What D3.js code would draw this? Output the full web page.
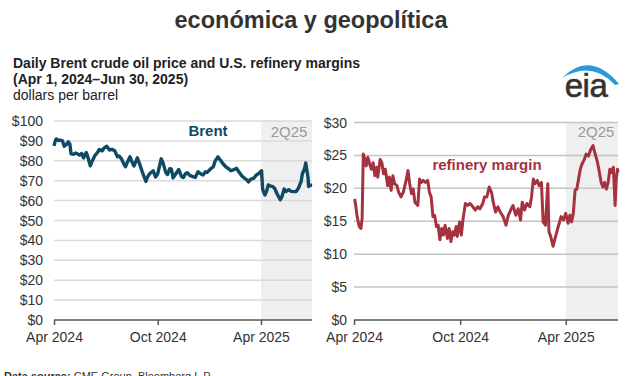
<!DOCTYPE html>
<html>
<head>
<meta charset="utf-8">
<script src="https://cdn.jsdelivr.net/npm/d3@7"></script>
<style>
  body { margin: 0; background: #fff; }
  svg { display: block; font-family: "Liberation Sans", Arial, Helvetica, sans-serif; }
</style>
</head>
<body>
<div id="chart"></div>
<script>
// Brent crude, dollars per barrel
var brentDates = ["2024-04-01","2024-04-03","2024-04-05","2024-04-09","2024-04-12","2024-04-16","2024-04-19","2024-04-23","2024-04-26","2024-04-29",
  "2024-05-01","2024-05-06","2024-05-09","2024-05-13","2024-05-16","2024-05-20","2024-05-23","2024-05-28","2024-05-31","2024-06-04",
  "2024-06-07","2024-06-12","2024-06-17","2024-06-20","2024-06-25","2024-06-28","2024-07-03","2024-07-08","2024-07-12","2024-07-17",
  "2024-07-22","2024-07-25","2024-07-29","2024-08-02","2024-08-05","2024-08-09","2024-08-13","2024-08-16","2024-08-20","2024-08-26",
  "2024-08-30","2024-09-04","2024-09-10","2024-09-13","2024-09-17","2024-09-23","2024-09-27","2024-10-01","2024-10-07","2024-10-10",
  "2024-10-15","2024-10-18","2024-10-22","2024-10-25","2024-10-28","2024-11-01","2024-11-07","2024-11-12","2024-11-15","2024-11-19",
  "2024-11-22","2024-11-26","2024-12-02","2024-12-06","2024-12-11","2024-12-16","2024-12-20","2024-12-24","2024-12-27","2025-01-02",
  "2025-01-07","2025-01-10","2025-01-15","2025-01-20","2025-01-24","2025-01-29","2025-02-03","2025-02-07","2025-02-11","2025-02-17",
  "2025-02-21","2025-02-26","2025-03-04","2025-03-07","2025-03-10","2025-03-14","2025-03-19","2025-03-24","2025-03-28","2025-04-02",
  "2025-04-04","2025-04-08","2025-04-11","2025-04-14","2025-04-17","2025-04-22","2025-04-25","2025-04-30","2025-05-05","2025-05-08",
  "2025-05-12","2025-05-15","2025-05-20","2025-05-23","2025-05-28","2025-06-02","2025-06-06","2025-06-11","2025-06-13","2025-06-17",
  "2025-06-19","2025-06-23","2025-06-24","2025-06-27","2025-06-30"];
var brentValues = [87.5,89.8,91.0,90.2,90.4,90.0,87.3,88.2,89.5,88.4,
  83.5,83.3,83.9,83.4,82.8,83.7,81.4,84.2,81.6,77.5,
  79.6,82.6,84.3,85.7,85.0,86.4,87.3,85.4,85.8,85.0,
  82.0,82.4,81.0,78.5,77.0,79.6,82.0,79.8,77.4,81.5,
  78.4,74.2,69.6,71.9,73.6,75.0,71.9,73.5,81.0,79.2,
  74.3,73.1,76.0,75.9,71.4,73.1,75.6,72.0,71.6,73.5,
  74.0,72.8,72.0,71.6,74.5,73.4,72.9,74.5,74.2,75.9,
  77.0,79.8,82.0,80.1,78.5,77.0,76.0,75.0,75.4,76.2,
  74.5,72.5,71.0,70.4,69.4,70.8,71.2,72.9,73.6,75.0,
  65.6,62.8,64.8,67.9,67.4,67.0,66.2,63.1,60.4,62.0,
  65.8,64.6,65.5,64.8,64.5,64.6,66.2,69.8,73.5,76.2,
  78.9,71.5,67.1,67.8,67.6];

// U.S. refinery margin, dollars per barrel
var marginDates = ["2024-04-02","2024-04-04","2024-04-06","2024-04-10","2024-04-13","2024-04-15","2024-04-17","2024-04-20","2024-04-22","2024-04-25",
  "2024-04-28","2024-05-01","2024-05-04","2024-05-07","2024-05-10","2024-05-12","2024-05-16","2024-05-19","2024-05-22","2024-05-25",
  "2024-05-29","2024-06-01","2024-06-04","2024-06-07","2024-06-10","2024-06-14","2024-06-17","2024-06-21","2024-06-25","2024-06-29",
  "2024-07-01","2024-07-03","2024-07-06","2024-07-09","2024-07-12","2024-07-15","2024-07-20","2024-07-23","2024-07-26","2024-07-29",
  "2024-08-02","2024-08-06","2024-08-09","2024-08-12","2024-08-15","2024-08-18","2024-08-21","2024-08-24","2024-08-27","2024-08-30",
  "2024-09-02","2024-09-05","2024-09-09","2024-09-12","2024-09-15","2024-09-18","2024-09-21","2024-09-24","2024-09-26","2024-09-30",
  "2024-10-03","2024-10-06","2024-10-10","2024-10-14","2024-10-18","2024-10-23","2024-10-27","2024-10-31","2024-11-04","2024-11-09",
  "2024-11-12","2024-11-16","2024-11-20","2024-11-24","2024-11-27","2024-12-01","2024-12-05","2024-12-09","2024-12-14","2024-12-19",
  "2024-12-23","2024-12-27","2024-12-31","2025-01-05","2025-01-09","2025-01-13","2025-01-16","2025-01-20","2025-01-24","2025-01-29",
  "2025-02-01","2025-02-04","2025-02-07","2025-02-11","2025-02-14","2025-02-18","2025-02-21","2025-02-25","2025-03-01","2025-03-03",
  "2025-03-06","2025-03-10","2025-03-15","2025-03-19","2025-03-24","2025-03-28","2025-04-01","2025-04-05","2025-04-08","2025-04-11",
  "2025-04-14","2025-04-17","2025-04-20","2025-04-23","2025-04-26","2025-04-29","2025-05-03","2025-05-06","2025-05-10","2025-05-14",
  "2025-05-18","2025-05-21","2025-05-25","2025-05-28","2025-06-01","2025-06-04","2025-06-07","2025-06-10","2025-06-13","2025-06-16",
  "2025-06-19","2025-06-22","2025-06-25","2025-06-27","2025-06-29","2025-06-30"];
var marginValues = [18.4,17.4,15.9,14.2,13.9,15.4,25.2,24.4,23.4,24.7,
  23.7,22.9,23.9,21.9,23.2,21.7,24.4,23.9,22.2,22.9,
  20.4,21.7,19.7,21.9,20.7,20.4,19.4,18.7,19.4,20.9,
  21.7,22.7,20.7,19.2,19.9,17.9,17.4,21.4,20.9,21.2,
  20.9,21.2,19.4,18.7,15.7,15.9,14.2,14.4,12.2,13.9,
  12.9,14.4,12.4,13.9,11.9,13.4,12.9,14.2,12.7,14.9,
  12.9,15.4,17.7,17.4,17.7,17.2,16.7,17.2,16.9,17.7,
  18.7,18.7,20.2,19.4,17.9,16.4,17.2,16.4,15.7,14.4,
  15.9,16.7,17.4,15.9,16.9,15.2,17.9,16.7,17.7,17.2,
  18.7,21.4,20.7,21.2,20.4,20.9,14.9,14.4,20.7,13.4,
  12.7,11.2,12.9,14.2,15.7,15.2,16.2,14.7,15.9,14.9,
  16.2,19.7,19.9,21.4,22.9,23.7,24.4,25.2,24.9,25.9,
  26.5,25.4,24.2,22.9,20.9,20.2,20.9,19.9,20.9,22.9,
  22.4,23.2,17.4,21.4,22.9,22.4];

var brentTicks = [0, 10, 20, 30, 40, 50, 60, 70, 80, 90, 100];
var marginTicks = [0, 5, 10, 15, 20, 25, 30];
var xTickDates = ["2024-04-01", "2024-10-01", "2025-04-01"];
var xTickLabels = ["Apr 2024", "Oct 2024", "Apr 2025"];
var quarterSpan = ["2025-04-01", "2025-06-30"];
var quarterLabel = "2Q25";

var parse = d3.timeParse("%Y-%m-%d");
var fmtLabel = {};
xTickDates.forEach(function(d, i) { fmtLabel[+parse(d)] = xTickLabels[i]; });

var width = 627, height = 376;

var svg = d3.select("#chart").append("svg")
    .attr("width", width)
    .attr("height", height);

// headings
svg.append("text")
    .attr("x", 311).attr("y", 28)
    .attr("text-anchor", "middle")
    .style("font-size", "23.5px").style("font-weight", "bold").style("fill", "#333")
    .text("económica y geopolítica");

var sub = [
  {t: "Daily Brent crude oil price and U.S. refinery margins", y: 68, b: true},
  {t: "(Apr 1, 2024\u2013Jun 30, 2025)", y: 84, b: true},
  {t: "dollars per barrel", y: 100, b: false}
];
svg.selectAll(".sub").data(sub).enter().append("text")
    .attr("class", "sub")
    .attr("x", 13).attr("y", function(d) { return d.y; })
    .style("font-size", "14px")
    .style("font-weight", function(d) { return d.b ? "bold" : "normal"; })
    .style("fill", "#222")
    .text(function(d) { return d.t; });

// eia logo
svg.append("path")
    .attr("d", "M562,78 Q590,50 619,84 L615,85 Q592,60 562,78 Z")
    .attr("fill", "#2c9ad8");
svg.append("text")
    .attr("x", 586).attr("y", 97)
    .attr("text-anchor", "middle")
    .style("font-size", "33px").style("fill", "#333").style("letter-spacing", "-0.5px")
    .style("stroke", "#333").style("stroke-width", 0.6)
    .text("eia");

function drawPanel(cfg) {
  var data = cfg.dates.map(function(d, i) { return {date: parse(d), value: cfg.values[i]}; });

  var x = d3.scaleTime()
      .domain([parse("2024-04-01"), parse("2025-06-30")])
      .range([cfg.left, cfg.right]);
  var y = d3.scaleLinear()
      .domain([0, d3.max(cfg.ticks)])
      .range([320, cfg.top]);

  var g = svg.append("g");

  // shaded quarter
  g.append("rect")
      .attr("x", x(parse(quarterSpan[0])))
      .attr("y", y(d3.max(cfg.ticks)))
      .attr("width", x(parse(quarterSpan[1])) - x(parse(quarterSpan[0])))
      .attr("height", y(0) - y(d3.max(cfg.ticks)))
      .attr("fill", "#efefef");

  // gridlines
  g.selectAll(".grid").data(cfg.ticks.slice(1)).enter().append("line")
      .attr("x1", cfg.left).attr("x2", cfg.right)
      .attr("y1", function(d) { return y(d); })
      .attr("y2", function(d) { return y(d); })
      .attr("stroke", cfg.grid).attr("stroke-width", 1.5);

  // y labels
  g.selectAll(".ylab").data(cfg.ticks).enter().append("text")
      .attr("x", cfg.labelX).attr("y", function(d) { return y(d) + 5; })
      .attr("text-anchor", "end")
      .style("font-size", "14px").style("fill", "#333")
      .text(function(d) { return "$" + d; });

  // x axis
  var xAxis = d3.axisBottom(x)
      .tickValues(xTickDates.map(parse))
      .tickSize(5)
      .tickPadding(7)
      .tickFormat(function(d) { return fmtLabel[+d]; });
  var ax = g.append("g")
      .attr("transform", "translate(0,320)")
      .call(xAxis);
  ax.select(".domain").attr("d", "M" + cfg.left + ",0H" + cfg.right)
      .attr("stroke", "#555").attr("stroke-width", 1.5);
  ax.selectAll(".tick line").attr("stroke", "#555").attr("stroke-width", 1.5);
  ax.selectAll(".tick text")
      .style("font-size", "14px").style("fill", "#333")
      .style("font-family", "\"Liberation Sans\", Arial, sans-serif");

  // quarter label
  g.append("text")
      .attr("x", cfg.qx).attr("y", 137)
      .attr("text-anchor", "middle")
      .style("font-size", "15px").style("fill", "#9a9a9a")
      .text(quarterLabel);

  // line
  var line = d3.line()
      .x(function(d) { return x(d.date); })
      .y(function(d) { return y(d.value); });

  g.append("path")
      .datum(data)
      .attr("fill", "none")
      .attr("stroke", cfg.color)
      .attr("stroke-width", cfg.lw)
      .attr("stroke-linejoin", "round")
      .attr("d", line);

  g.append("text")
      .attr("x", cfg.nameX).attr("y", cfg.nameY)
      .attr("text-anchor", "middle")
      .style("font-size", "15px").style("font-weight", "bold").style("fill", cfg.color)
      .text(cfg.name);
}

drawPanel({dates: brentDates, values: brentValues, ticks: brentTicks,
  left: 54, right: 312, top: 121, labelX: 43, grid: "#dadada",
  color: "#0f4a64", lw: 3.4, name: "Brent", nameX: 208, nameY: 136, qx: 289});

drawPanel({dates: marginDates, values: marginValues, ticks: marginTicks,
  left: 354, right: 618, top: 122.5, labelX: 347, grid: "#c4c4c4",
  color: "#a5323f", lw: 3, name: "refinery margin", nameX: 487, nameY: 170, qx: 596});

// source note (cut off at bottom of the frame, as in the original)
var src = svg.append("text")
    .attr("x", 4).attr("y", 380)
    .style("font-size", "11px").style("fill", "#333");
src.append("tspan").style("font-weight", "bold").text("Data source: ");
src.append("tspan").text("CME Group, Bloomberg L.P.");
</script>
</body>
</html>
